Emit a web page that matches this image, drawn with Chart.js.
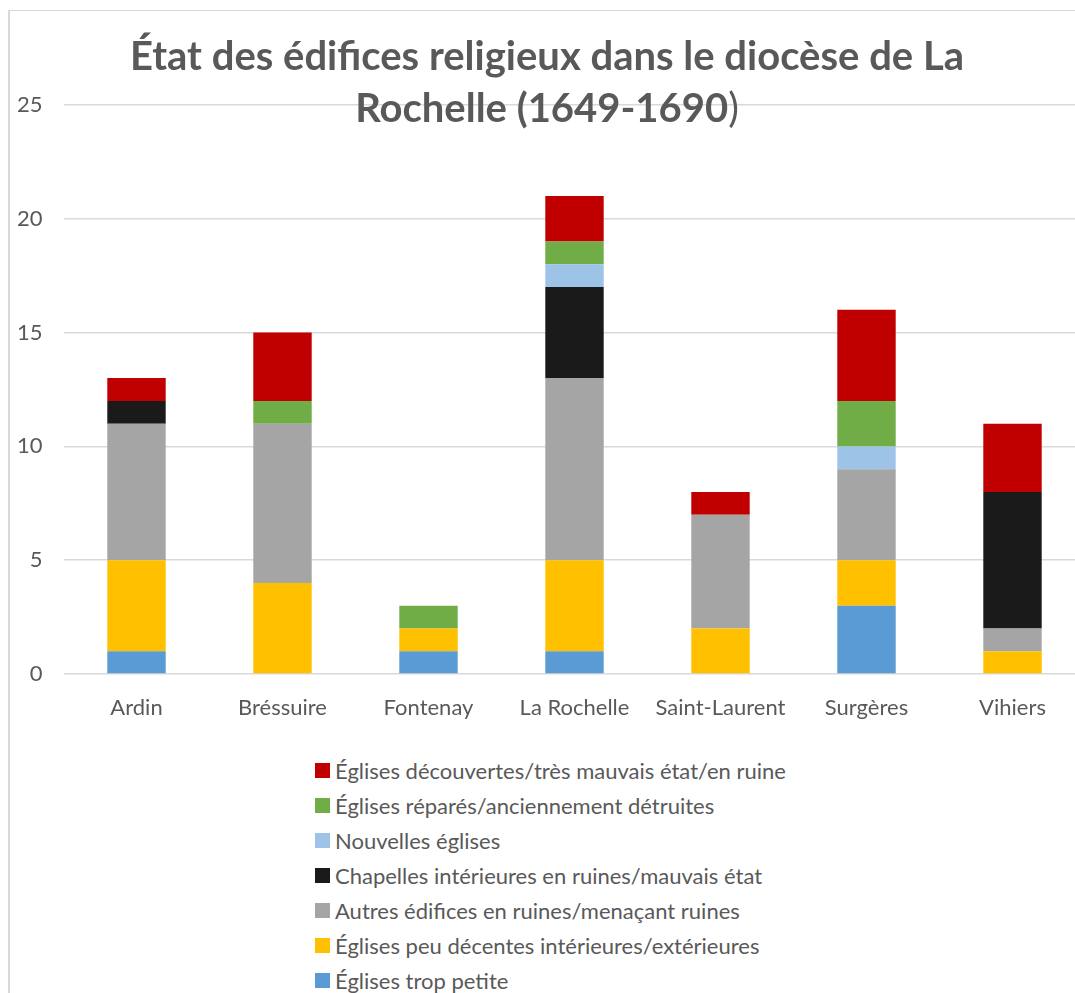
<!DOCTYPE html>
<html lang="fr">
<head>
<meta charset="utf-8">
<title>État des édifices religieux dans le diocèse de La Rochelle (1649-1690)</title>
<script src="https://cdn.jsdelivr.net/npm/chart.js@4.4.1/dist/chart.umd.min.js"></script>
<style>
  html, body { margin: 0; padding: 0; background: #fff; overflow: hidden; }
  body { width: 1075px; height: 993px; position: relative; font-family: Lato, "Open Sans", sans-serif; color: #595959; }
  #frame { position: absolute; left: 8px; top: 10px; width: 1200px; height: 1100px; border-left: 2px solid #d9d9d9; border-top: 1px solid #d9d9d9; }
  #chartBox { position: absolute; left: 0; top: 0; width: 1100px; height: 740px; }
  #chartTitle { position: absolute; left: 0; top: 28.5px; width: 1094px; text-align: center; font-size: 40px; font-weight: bold; line-height: 52px; color: #595959; pointer-events: none; }
  #chartTitle .light { font-weight: normal; }
  #legend { position: absolute; left: 315px; top: 753px; margin: 0; padding: 0; list-style: none; }
  #legend li { height: 35px; display: flex; align-items: center; font-size: 22px; color: #595959; white-space: nowrap; }
  #legend .swatch { width: 15px; height: 15px; margin-right: 5px; flex: none; }
</style>
</head>
<body>
<div id="frame"></div>
<div id="chartBox"><canvas id="chartCanvas"></canvas></div>
<div id="chartTitle">État des édifices religieux dans le diocèse de La<br>Rochelle (1649-1690<span class="light">)</span></div>
<ul id="legend"></ul>
<script>
  // Catégories (diocèses / archiprêtrés)
  const categories = ["Ardin", "Bréssuire", "Fontenay", "La Rochelle", "Saint-Laurent", "Surgères", "Vihiers"];

  // Séries, du bas de la pile vers le haut
  const tropPetite      = [1, 0, 1, 1, 0, 3, 0];
  const peuDecentes     = [4, 4, 1, 4, 2, 2, 1];
  const autresEdifices  = [6, 7, 0, 8, 5, 4, 1];
  const chapelles       = [1, 0, 0, 4, 0, 0, 6];
  const nouvelles       = [0, 0, 0, 1, 0, 1, 0];
  const reparees        = [0, 1, 1, 1, 0, 2, 0];
  const decouvertes     = [1, 3, 0, 2, 1, 4, 3];

  const yTicks = [0, 5, 10, 15, 20, 25];

  const seriesNames = [
    "Églises trop petite",
    "Églises peu décentes intérieures/extérieures",
    "Autres édifices en ruines/menaçant ruines",
    "Chapelles intérieures en ruines/mauvais état",
    "Nouvelles églises",
    "Églises réparés/anciennement détruites",
    "Églises découvertes/très mauvais état/en ruine"
  ];
  const seriesColors = ["#5B9BD5", "#FFC000", "#A5A5A5", "#1A1A1A", "#9DC3E6", "#70AD47", "#C00000"];
  const seriesValues = [tropPetite, peuDecentes, autresEdifices, chapelles, nouvelles, reparees, decouvertes];

  const datasets = seriesValues.map((values, i) => ({
    label: seriesNames[i],
    data: values,
    backgroundColor: seriesColors[i],
    borderWidth: 0,
    barPercentage: 0.4,
    categoryPercentage: 1
  }));

  const chart = new Chart(document.getElementById("chartCanvas"), {
    type: "bar",
    data: { labels: categories, datasets },
    options: {
      responsive: true,
      maintainAspectRatio: false,
      animation: false,
      layout: { padding: { top: 105, right: 14.5, bottom: 0, left: 0 } },
      plugins: {
        legend: { display: false },
        title: { display: false },
        tooltip: { enabled: false }
      },
      scales: {
        x: {
          stacked: true,
          grid: { display: false },
          border: { display: false },
          ticks: {
            padding: 13,
            color: "#595959",
            font: { family: "Lato", size: 22 }
          },
          afterFit(scale) { scale.height = 66; }
        },
        y: {
          stacked: true,
          min: 0,
          max: 25,
          afterBuildTicks(scale) { scale.ticks = yTicks.map(v => ({ value: v })); },
          grid: { color: "#D9D9D9", lineWidth: 1.5, drawTicks: false },
          border: { display: false },
          ticks: {
            padding: 21,
            color: "#595959",
            font: { family: "Lato", size: 22 }
          },
          afterFit(scale) { scale.width = 63.5; }
        }
      }
    }
  });

  // Légende verticale, ordre inverse (haut de la pile en premier)
  const legendList = document.getElementById("legend");
  chart.data.datasets.slice().reverse().forEach(ds => {
    const li = document.createElement("li");
    const sw = document.createElement("span");
    sw.className = "swatch";
    sw.style.background = ds.backgroundColor;
    li.appendChild(sw);
    li.appendChild(document.createTextNode(ds.label));
    legendList.appendChild(li);
  });
</script>
</body>
</html>
